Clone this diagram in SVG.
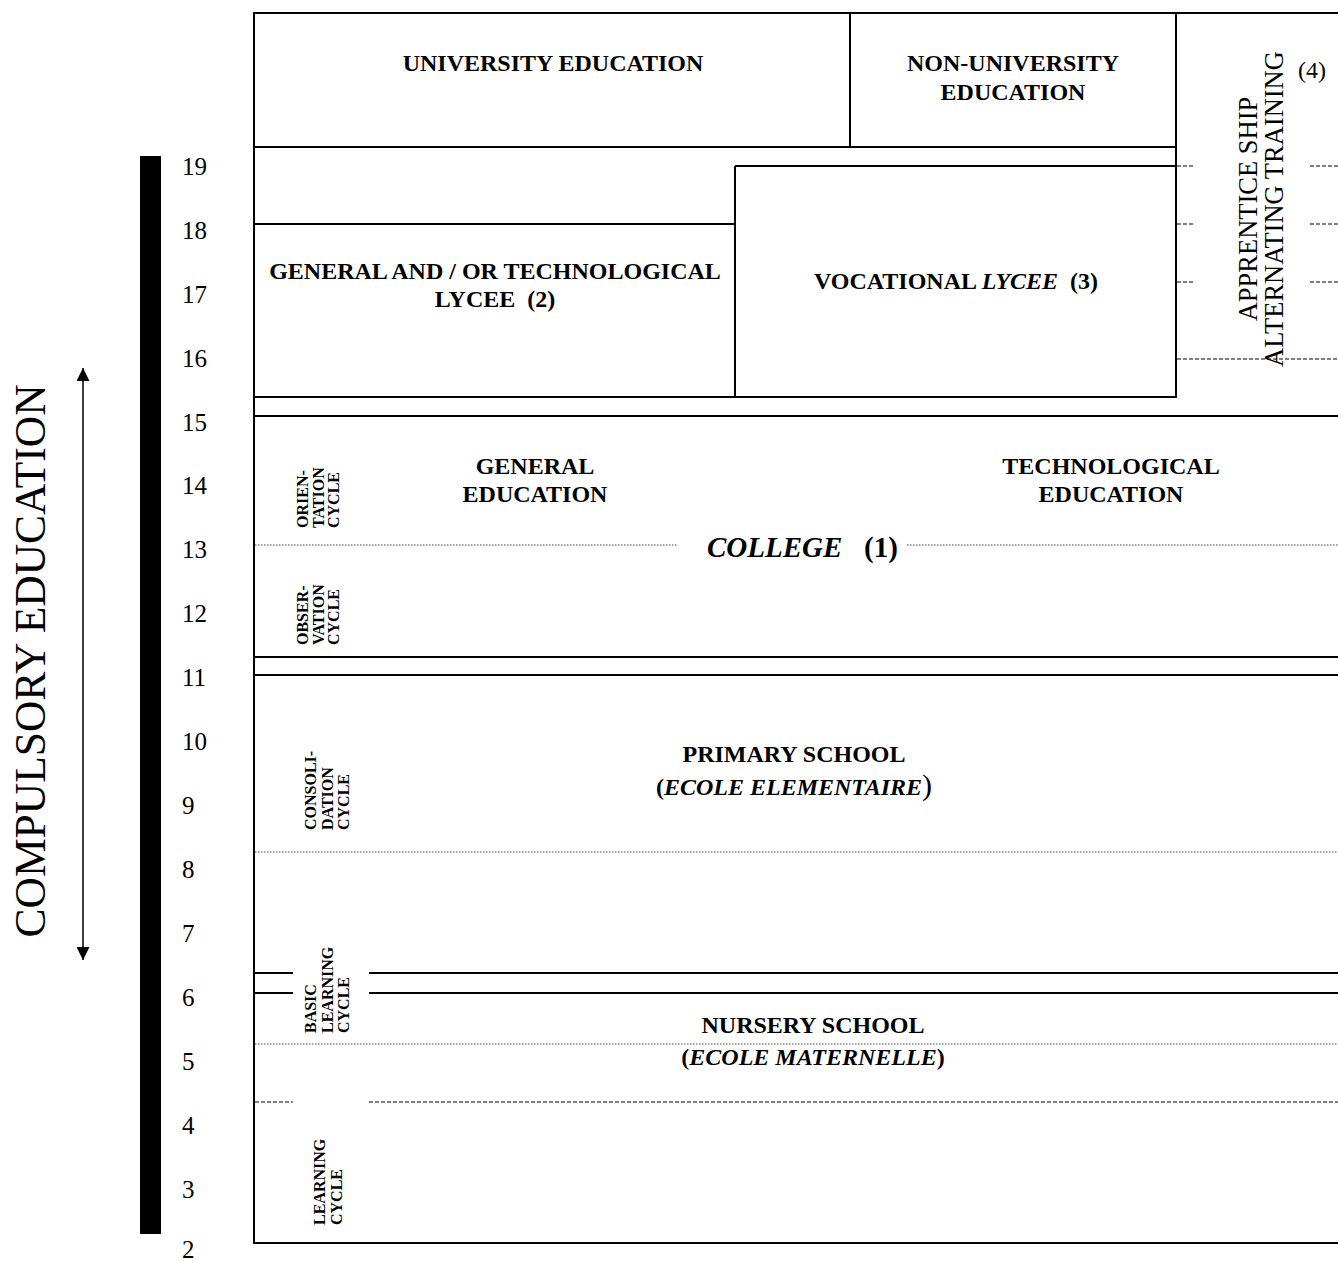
<svg xmlns="http://www.w3.org/2000/svg" width="1338" height="1261" viewBox="0 0 1338 1261">
<style>
.ln{stroke:#000;stroke-width:2;fill:none}
.dot{stroke:#444;stroke-width:1;stroke-dasharray:1.5 1.5;fill:none}
.dsh{stroke:#000;stroke-width:1;stroke-dasharray:4 2;fill:none}
text{font-family:"Liberation Serif","Times New Roman",serif;fill:#000;white-space:pre}
.b{font-weight:bold;font-size:24px}
.num{font-size:25px}
.cyc{font-weight:bold;font-size:16px}
.it{font-style:italic}
</style>
<defs>
<marker id="ah" viewBox="0 0 10 10" refX="10" refY="5" markerWidth="13" markerHeight="13" markerUnits="userSpaceOnUse" orient="auto-start-reverse">
<path d="M0,0 L10,5 L0,10 Z" fill="#000"/>
</marker>
</defs>
<rect width="1338" height="1261" fill="#fff"/>

<g id="age-scale">
<rect x="140" y="156" width="21" height="1078" fill="#000"/>
<text class="num" x="182" y="175">19</text>
<text class="num" x="182" y="239">18</text>
<text class="num" x="182" y="303">17</text>
<text class="num" x="182" y="367">16</text>
<text class="num" x="182" y="431">15</text>
<text class="num" x="182" y="494">14</text>
<text class="num" x="182" y="558">13</text>
<text class="num" x="182" y="622">12</text>
<text class="num" x="182" y="686">11</text>
<text class="num" x="182" y="750">10</text>
<text class="num" x="182" y="814">9</text>
<text class="num" x="182" y="878">8</text>
<text class="num" x="182" y="942">7</text>
<text class="num" x="182" y="1006">6</text>
<text class="num" x="182" y="1070">5</text>
<text class="num" x="182" y="1134">4</text>
<text class="num" x="182" y="1198">3</text>
<text class="num" x="182" y="1258">2</text>
</g>

<g id="compulsory-education">
<text x="0" y="0" font-size="43.5" text-anchor="middle" transform="translate(45,661) rotate(-90)">COMPULSORY EDUCATION</text>
</g>

<g id="frame">
<line class="ln" x1="254" y1="13" x2="1338" y2="13"/>
<line class="ln" x1="254" y1="12" x2="254" y2="1243"/>
<line class="ln" x1="253" y1="1243" x2="1338" y2="1243"/>
</g>

<g id="university">
<line class="ln" x1="254" y1="147" x2="1176" y2="147"/>
<line class="ln" x1="850" y1="13" x2="850" y2="147"/>
<text class="b" x="553" y="71" text-anchor="middle">UNIVERSITY EDUCATION</text>
</g>

<g id="non-university">
<text class="b" x="1013" y="71" text-anchor="middle">NON-UNIVERSITY</text>
<text class="b" x="1013" y="100" text-anchor="middle">EDUCATION</text>
</g>

<g id="general-lycee">
<line class="ln" x1="254" y1="224" x2="735" y2="224"/>
<line class="ln" x1="254" y1="397" x2="1176" y2="397"/>
<text class="b" x="495" y="279" text-anchor="middle">GENERAL AND / OR TECHNOLOGICAL</text>
<text class="b" x="495" y="307" text-anchor="middle">LYCEE  (2)</text>
</g>

<g id="vocational-lycee">
<line class="ln" x1="735" y1="166" x2="1176" y2="166"/>
<line class="ln" x1="735" y1="166" x2="735" y2="397"/>
<line class="ln" x1="1176" y1="13" x2="1176" y2="398"/>
<text class="b" x="956" y="289" text-anchor="middle">VOCATIONAL <tspan class="it">LYCEE</tspan>  (3)</text>
</g>

<g id="apprenticeship">
<line class="dsh" x1="1177" y1="166" x2="1195" y2="166"/>
<line class="dsh" x1="1310" y1="166" x2="1338" y2="166"/>
<line class="dsh" x1="1177" y1="224" x2="1195" y2="224"/>
<line class="dsh" x1="1310" y1="224" x2="1338" y2="224"/>
<line class="dsh" x1="1177" y1="282" x2="1195" y2="282"/>
<line class="dsh" x1="1310" y1="282" x2="1338" y2="282"/>
<line class="dsh" x1="1177" y1="359" x2="1338" y2="359"/>
<text font-size="26.5" text-anchor="middle" transform="translate(1257,209) rotate(-90)">APPRENTICE SHIP</text>
<text font-size="26.5" text-anchor="middle" transform="translate(1283,209) rotate(-90)">ALTERNATING TRAINING</text>
<text font-size="24" x="1298" y="78">(4)</text>
</g>

<g id="college">
<line class="ln" x1="254" y1="416" x2="1338" y2="416"/>
<line class="ln" x1="254" y1="657" x2="1338" y2="657"/>
<line class="dot" x1="255" y1="545" x2="678" y2="545"/>
<line class="dot" x1="907" y1="545" x2="1338" y2="545"/>
<text class="b" x="535" y="474" text-anchor="middle">GENERAL</text>
<text class="b" x="535" y="502" text-anchor="middle">EDUCATION</text>
<text class="b" x="1111" y="474" text-anchor="middle">TECHNOLOGICAL</text>
<text class="b" x="1111" y="502" text-anchor="middle">EDUCATION</text>
<text x="707" y="557" font-weight="bold" font-size="29"><tspan class="it">COLLEGE</tspan>   (1)</text>
<text class="cyc" transform="translate(308,528) rotate(-90)"><tspan x="0" y="0">ORIEN-</tspan><tspan x="0" y="15.5">TATION</tspan><tspan x="0" y="31">CYCLE</tspan></text>
<text class="cyc" transform="translate(308,645) rotate(-90)"><tspan x="0" y="0">OBSER-</tspan><tspan x="0" y="15.5">VATION</tspan><tspan x="0" y="31">CYCLE</tspan></text>
</g>

<g id="primary-school">
<line class="ln" x1="254" y1="675" x2="1338" y2="675"/>
<line class="dot" x1="255" y1="852" x2="1338" y2="852"/>
<text class="b" x="794" y="762" text-anchor="middle">PRIMARY SCHOOL</text>
<text class="b" x="794" y="795" text-anchor="middle">(<tspan class="it">ECOLE ELEMENTAIRE</tspan><tspan font-weight="normal" font-size="30">)</tspan></text>
<text class="cyc" transform="translate(316,830) rotate(-90)"><tspan x="0" y="0">CONSOLI-</tspan><tspan x="0" y="16.5">DATION</tspan><tspan x="0" y="33">CYCLE</tspan></text>
</g>

<g id="nursery-school">
<line class="ln" x1="254" y1="973" x2="293" y2="973"/>
<line class="ln" x1="369" y1="973" x2="1338" y2="973"/>
<line class="ln" x1="254" y1="993" x2="293" y2="993"/>
<line class="ln" x1="369" y1="993" x2="1338" y2="993"/>
<line class="dot" x1="255" y1="1044" x2="1338" y2="1044"/>
<line class="dsh" x1="255" y1="1102" x2="293" y2="1102"/>
<line class="dsh" x1="369" y1="1102" x2="1338" y2="1102"/>
<text class="b" x="813" y="1033" text-anchor="middle">NURSERY SCHOOL</text>
<text class="b" x="813" y="1065" text-anchor="middle">(<tspan class="it">ECOLE MATERNELLE</tspan>)</text>
<text class="cyc" transform="translate(316,1033) rotate(-90)"><tspan x="0" y="0">BASIC</tspan><tspan x="0" y="16.5">LEARNING</tspan><tspan x="0" y="33">CYCLE</tspan></text>
<text class="cyc" transform="translate(325,1225) rotate(-90)"><tspan x="0" y="0">LEARNING</tspan><tspan x="0" y="16.5">CYCLE</tspan></text>
</g>

<g id="connectors">
<line x1="83" y1="368" x2="83" y2="960" stroke="#000" stroke-width="1.5" marker-start="url(#ah)" marker-end="url(#ah)"/>
</g>
</svg>
